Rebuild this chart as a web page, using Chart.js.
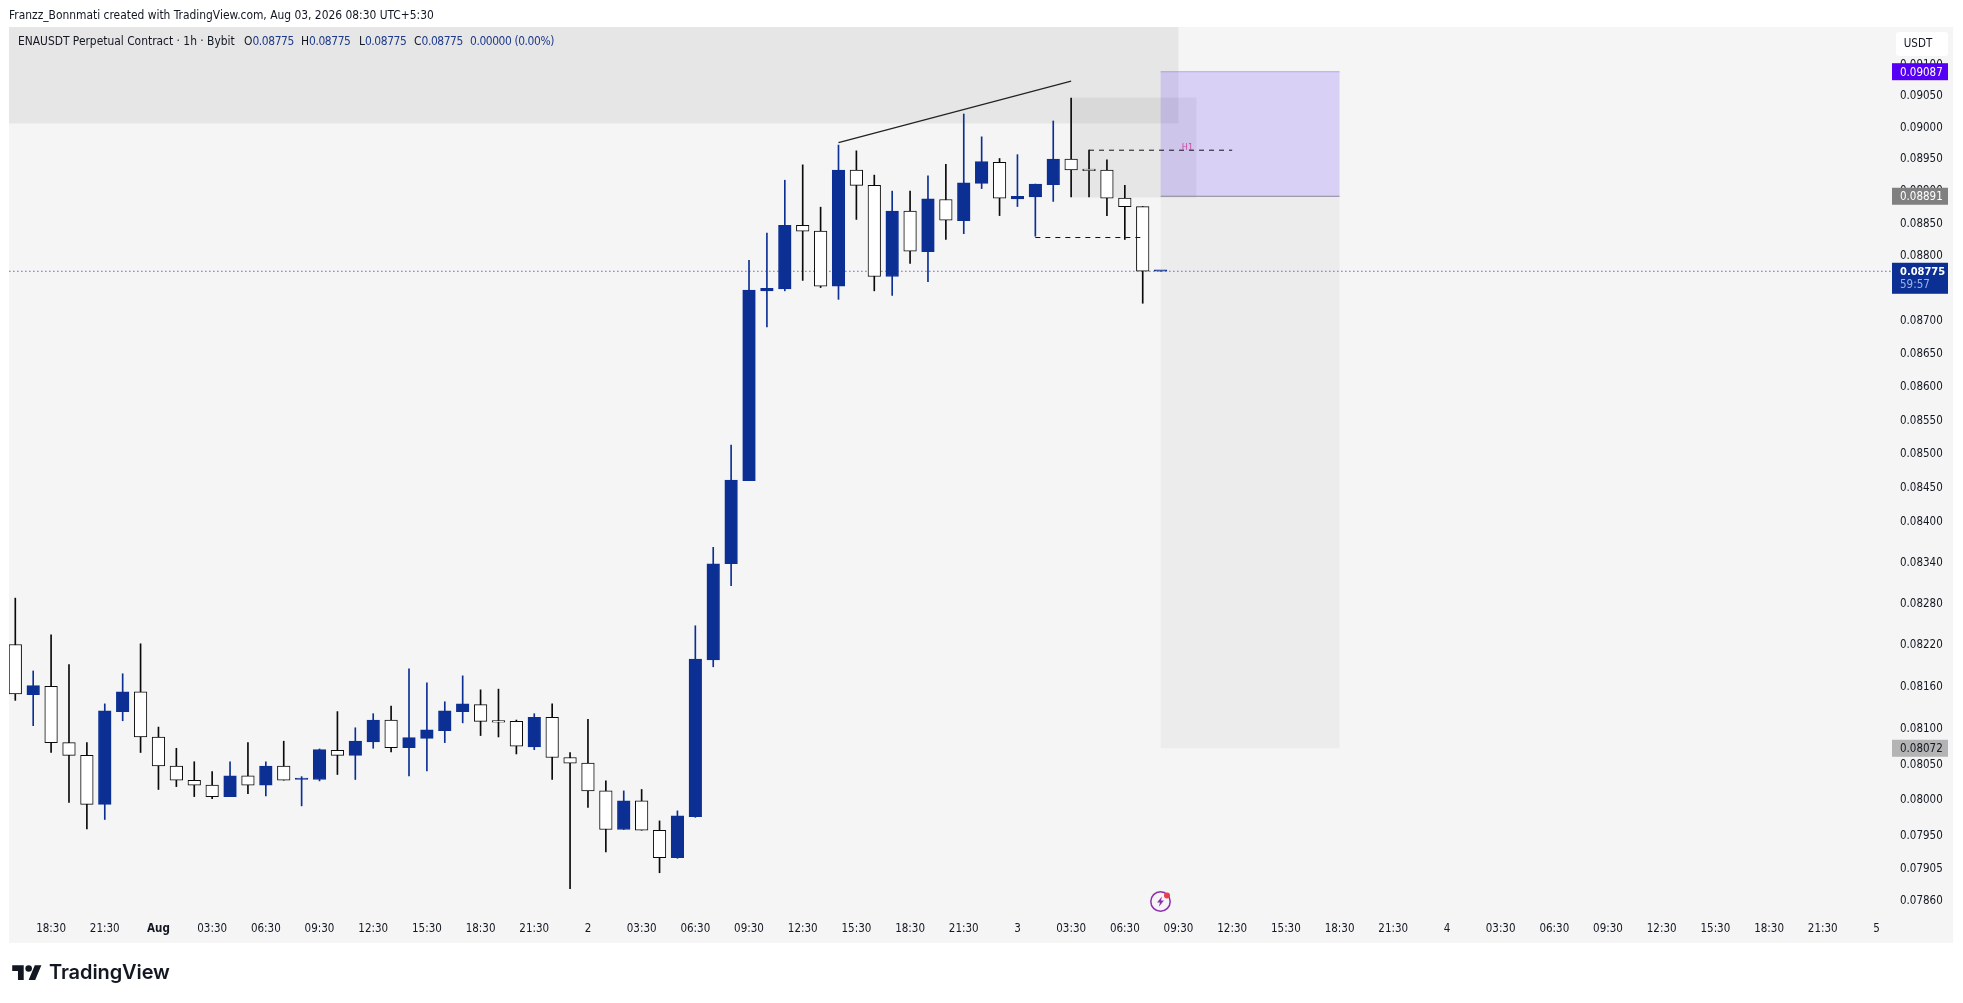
<!DOCTYPE html>
<html>
<head>
<meta charset="utf-8">
<title>ENAUSDT</title>
<script src="https://cdn.jsdelivr.net/npm/chart.js@4/dist/chart.umd.min.js"></script>
<style>
html,body{margin:0;padding:0;background:#fff;width:1963px;height:1003px;overflow:hidden}
body{font-family:'DejaVu Sans Condensed','DejaVu Sans',sans-serif;color:#131722}
#pane{position:absolute;left:9px;top:27px;width:1944px;height:916px;background:#f5f5f5}
canvas{position:absolute;left:0;top:0}
.txt{position:absolute;white-space:nowrap;font-size:11.9px;line-height:14px}
.val{color:#1e3a8a;letter-spacing:-.4px}
#brand{position:absolute;left:49px;top:958px;font-family:Inter,Roboto,sans-serif;font-weight:600;font-size:20px;line-height:28px;color:#131722;letter-spacing:-.1px}
</style>
</head>
<body>
<div id="pane"></div>
<canvas id="myChart" width="1963" height="1003"></canvas>
<div class="txt" style="left:9px;top:8px">Franzz_Bonnmati created with TradingView.com, Aug 03, 2026 08:30 UTC+5:30</div>
<div class="txt" style="left:18px;top:34px">ENAUSDT Perpetual Contract · 1h · Bybit</div>
<div class="txt" style="left:244px;top:34px">O<span class="val">0.08775</span></div>
<div class="txt" style="left:301px;top:34px">H<span class="val">0.08775</span></div>
<div class="txt" style="left:359px;top:34px">L<span class="val">0.08775</span></div>
<div class="txt" style="left:414px;top:34px">C<span class="val">0.08775</span></div>
<div class="txt val" style="left:470px;top:34px">0.00000 (0.00%)</div>
<svg style="position:absolute;left:1149px;top:890px" width="24" height="24" viewBox="0 0 24 24">
  <circle cx="11.5" cy="11.5" r="9.7" fill="none" stroke="#8e2fb0" stroke-width="1.5"/>
  <path d="M13 6.5 8 12.6h3L9.8 16.8 15 10.6h-3z" fill="#8e2fb0"/>
  <circle cx="18" cy="5.5" r="3" fill="#ef3b4f"/>
</svg>
<svg style="position:absolute;left:12px;top:962px" width="30" height="23" viewBox="0 0 36 28">
  <path d="M14 22H7V11H0V4h14v18zM28 22h-8l7.5-18h8L28 22z" fill="#131722"/>
  <circle cx="20" cy="8" r="4" fill="#131722"/>
</svg>
<div id="brand">TradingView</div>
<script>
// hourly candles, first one is 31 Jul 16:30, last one is 3 Aug 08:30
var opens = [0.08220,0.08148,0.08160,0.08080,0.08062,0.07993,0.08124,0.08152,0.08088,0.08047,0.08027,0.08020,0.08004,0.08033,0.08020,0.08047,
  0.08028,0.08028,0.08069,0.08062,0.08081,0.08112,0.08073,0.08086,0.08097,0.08124,0.08134,0.08110,0.08110,0.08074,0.08116,0.08059,
  0.08051,0.08012,0.07958,0.07998,0.07957,0.07919,0.07976,0.08198,0.08337,0.08459,0.08745,0.08748,0.08846,0.08837,0.08752,0.08932,
  0.08908,0.08767,0.08868,0.08805,0.08886,0.08853,0.08911,0.08944,0.08887,0.08890,0.08909,0.08949,0.08932,0.08932,0.08888,0.08875,0.08775];
var highs = [0.08287,0.08182,0.08234,0.08191,0.08080,0.08135,0.08178,0.08221,0.08102,0.08072,0.08053,0.08039,0.08053,0.08080,0.08053,0.08082,
  0.08032,0.08071,0.08124,0.08101,0.08121,0.08132,0.08185,0.08165,0.08138,0.08175,0.08155,0.08156,0.08112,0.08121,0.08135,0.08066,
  0.08113,0.08026,0.08012,0.08014,0.07970,0.07984,0.08247,0.08361,0.08512,0.08792,0.08834,0.08916,0.08940,0.08874,0.08971,0.08962,
  0.08924,0.08899,0.08899,0.08923,0.08941,0.09020,0.08984,0.08950,0.08956,0.08910,0.09009,0.09045,0.08963,0.08948,0.08908,0.08875,0.08775];
var lows = [0.08140,0.08104,0.08066,0.07996,0.07959,0.07972,0.08111,0.08066,0.08014,0.08018,0.08004,0.08001,0.08004,0.08008,0.08005,0.08027,
  0.07991,0.08026,0.08035,0.08028,0.08072,0.08067,0.08033,0.08040,0.08080,0.08108,0.08090,0.08088,0.08064,0.08070,0.08028,0.07876,
  0.07989,0.07927,0.07958,0.07957,0.07898,0.07918,0.07975,0.08188,0.08305,0.08459,0.08690,0.08745,0.08761,0.08750,0.08732,0.08855,
  0.08745,0.08738,0.08787,0.08759,0.08824,0.08833,0.08903,0.08861,0.08875,0.08829,0.08883,0.08890,0.08890,0.08861,0.08824,0.08726,0.08775];
var closes = [0.08149,0.08161,0.08080,0.08062,0.07993,0.08125,0.08152,0.08088,0.08047,0.08027,0.08020,0.08004,0.08033,0.08020,0.08047,0.08027,
  0.08029,0.08070,0.08062,0.08082,0.08112,0.08073,0.08087,0.08098,0.08125,0.08135,0.08110,0.08109,0.08075,0.08116,0.08059,0.08051,
  0.08012,0.07958,0.07998,0.07957,0.07919,0.07977,0.08199,0.08337,0.08460,0.08746,0.08749,0.08846,0.08837,0.08752,0.08932,0.08908,
  0.08767,0.08868,0.08806,0.08887,0.08854,0.08912,0.08945,0.08888,0.08891,0.08910,0.08949,0.08932,0.08931,0.08888,0.08875,0.08775,0.08775];

var timeTicks = [2,5,8,11,14,17,20,23,26,29,32,35,38,41,44,47,50,53,56,59,62,65,68,71,74,77,80,83,86,89,92,95,98,101,104];
var timeLabels = ["18:30","21:30","Aug","03:30","06:30","09:30","12:30","15:30","18:30","21:30","2","03:30","06:30","09:30","12:30","15:30","18:30","21:30","3","03:30","06:30","09:30","12:30","15:30","18:30","21:30","4","03:30","06:30","09:30","12:30","15:30","18:30","21:30","5"];
var priceTicks = [0.09100,0.09050,0.09000,0.08950,0.08900,0.08850,0.08800,0.08750,0.08700,0.08650,0.08600,0.08550,0.08500,0.08450,0.08400,0.08340,0.08280,0.08220,0.08160,0.08100,0.08050,0.08000,0.07950,0.07905,0.07860];

// drawings on the chart, bar index and price
var trendX = [46,59];
var trendY = [0.08975,0.09072];
var dashHighX = [60,68];
var dashHighY = [0.08963,0.08963];
var dashLowX = [57,63];
var dashLowY = [0.08827,0.08827];
var lastPrice = 0.08775;
var targetPrice = 0.09087;
var entryPrice = 0.08891;
var stopPrice = 0.08072;
var greyLeft = [-1,59];
var greyRight = [65,66];
var greyTop = [0.0925,0.09046];
var greyBottom = [0.09005,0.08889];
var boxLeft = 64;
var boxRight = 74;
var h1X = 65.5;

var blue = "#0c2f94";
var black = "#0a0a0a";
var tickFont = "DejaVu Sans Condensed";

function isUp(i){
    return closes[i] >= opens[i];
}
var wickData = [];
var bodyData = [];
var wickColors = [];
var bodyColors = [];
var edgeColors = [];
for(var i=0;i < opens.length;i++){
    wickData.push({x:i,y:[lows[i],highs[i]]});
    bodyData.push({x:i,y:[opens[i],closes[i]]});
    wickColors.push(isUp(i) ? blue : black);
    bodyColors.push(isUp(i) ? blue : "#ffffff");
    edgeColors.push(isUp(i) ? blue : black);
}
function pts(xs,ys){
    return xs.map(function(x,k){ return {x:x,y:ys[k]}; });
}

var drawings = {
    id:"drawings",
    beforeDatasetsDraw:function(chart){
        var c = chart.ctx, sx = chart.scales.x, sy = chart.scales.y, a = chart.chartArea;
        c.save();
        c.beginPath();
        c.rect(a.left,a.top,a.right-a.left,a.bottom-a.top);
        c.clip();
        c.fillStyle = "rgba(0,0,0,0.06)";
        for(var i=0;i < greyLeft.length;i++){
            var l = sx.getPixelForValue(greyLeft[i]), r = sx.getPixelForValue(greyRight[i]);
            var t = sy.getPixelForValue(greyTop[i]), b = sy.getPixelForValue(greyBottom[i]);
            c.fillRect(l,t,r-l,b-t);
        }
        var bl = sx.getPixelForValue(boxLeft), br = sx.getPixelForValue(boxRight);
        var yT = sy.getPixelForValue(targetPrice), yE = sy.getPixelForValue(entryPrice), yS = sy.getPixelForValue(stopPrice);
        c.fillStyle = "rgba(0,0,0,0.035)";
        c.fillRect(bl,yE,br-bl,yS-yE);
        c.fillStyle = "rgba(58,0,255,0.15)";
        c.fillRect(bl,yT,br-bl,yE-yT);
        c.fillStyle = "rgba(120,90,210,0.45)";
        c.fillRect(bl,yT-0.5,br-bl,1);
        c.fillStyle = "#8b8597";
        c.fillRect(bl,yE-0.5,br-bl,1);
        c.restore();
    },
    afterDraw:function(chart){
        var c = chart.ctx, sx = chart.scales.x, sy = chart.scales.y, a = chart.chartArea;
        var tagX = a.right, tagW = 56, textX = tagX + 8;
        c.save();
        c.textBaseline = "middle";
        c.textAlign = "left";
        c.font = "11.5px '" + tickFont + "'";

        function tag(price,bg,fg){
            var y = sy.getPixelForValue(price);
            c.fillStyle = bg;
            c.fillRect(tagX,y-8.5,tagW,17);
            c.fillStyle = fg;
            c.fillText(price.toFixed(5),textX,y+1);
        }
        tag(targetPrice,"#5500f5","#ffffff");
        tag(entryPrice,"#808080","#ffffff");
        tag(stopPrice,"#b4b4b4","#131722");

        var yL = sy.getPixelForValue(lastPrice);
        c.fillStyle = blue;
        c.fillRect(tagX,yL-8.5,tagW,31);
        c.fillStyle = "#ffffff";
        c.font = "bold 11px '" + tickFont + "'";
        c.fillText(lastPrice.toFixed(5),textX,yL+1);
        c.fillStyle = "#9db4ec";
        c.font = "11.5px '" + tickFont + "'";
        c.fillText("59:57",textX,yL+14);

        // currency box on top of the price axis
        c.fillStyle = "#ffffff";
        c.beginPath();
        c.roundRect(tagX+4,32,52,24,3);
        c.fill();
        c.fillStyle = "#131722";
        c.textAlign = "center";
        c.fillText("USDT",tagX+26,44.5);

        c.fillStyle = "#cf45a8";
        c.font = "9px '" + tickFont + "'";
        c.fillText("H1",sx.getPixelForValue(h1X),sy.getPixelForValue(dashHighY[0])-3);
        c.restore();
    }
};

var ctx = document.getElementById("myChart").getContext("2d");
var myChart = new Chart(ctx,{
    data:{
        datasets:[
            {type:"line",data:pts(trendX,trendY),borderColor:"#222222",borderWidth:1.2,pointRadius:0,order:0},
            {type:"line",data:pts(dashHighX,dashHighY),borderColor:"#111111",borderWidth:1,borderDash:[5,5],pointRadius:0,order:0},
            {type:"line",data:pts(dashLowX,dashLowY),borderColor:"#111111",borderWidth:1,borderDash:[5,5],pointRadius:0,order:0},
            {type:"bar",data:bodyData,backgroundColor:bodyColors,borderColor:edgeColors,borderWidth:1,borderSkipped:false,barThickness:12.6,minBarLength:1.5,grouped:false,order:1},
            {type:"bar",data:wickData,backgroundColor:wickColors,borderWidth:0,barThickness:1,grouped:false,order:2},
            {type:"line",data:pts([-1,105],[lastPrice,lastPrice]),borderColor:blue,borderWidth:1,borderDash:[1,3],pointRadius:0,order:3}
        ]
    },
    options:{
        responsive:false,
        animation:false,
        devicePixelRatio:1,
        layout:{padding:{left:9,top:27,right:0,bottom:0}},
        plugins:{legend:{display:false},tooltip:{enabled:false},title:{display:false}},
        scales:{
            x:{
                type:"linear",
                offset:false,
                bounds:"data",
                min:-0.352,
                max:104.87,
                grid:{display:false,drawTicks:false,offset:false},
                border:{display:false},
                afterBuildTicks:function(scale){
                    scale.ticks = timeTicks.map(function(v){ return {value:v}; });
                },
                afterFit:function(scale){
                    scale.height = 88;
                },
                ticks:{
                    autoSkip:false,
                    maxRotation:0,
                    padding:7,
                    color:"#131722",
                    font:function(c){
                        return {family:tickFont,size:11.5,weight:timeLabels[c.index] === "Aug" ? "bold" : "normal"};
                    },
                    callback:function(value,index){
                        return timeLabels[index];
                    }
                }
            },
            y:{
                type:"logarithmic",
                position:"right",
                bounds:"data",
                min:0.078398,
                max:0.091584,
                grid:{display:false,drawTicks:false},
                border:{display:false},
                afterBuildTicks:function(scale){
                    scale.ticks = priceTicks.map(function(v){ return {value:v}; });
                },
                afterFit:function(scale){
                    scale.width = 71;
                },
                ticks:{
                    autoSkip:false,
                    padding:8,
                    labelOffset:1,
                    color:"#131722",
                    font:{family:tickFont,size:11.5},
                    callback:function(value){
                        return Number(value).toFixed(5);
                    }
                }
            }
        }
    },
    plugins:[drawings]
});
</script>
</body>
</html>
